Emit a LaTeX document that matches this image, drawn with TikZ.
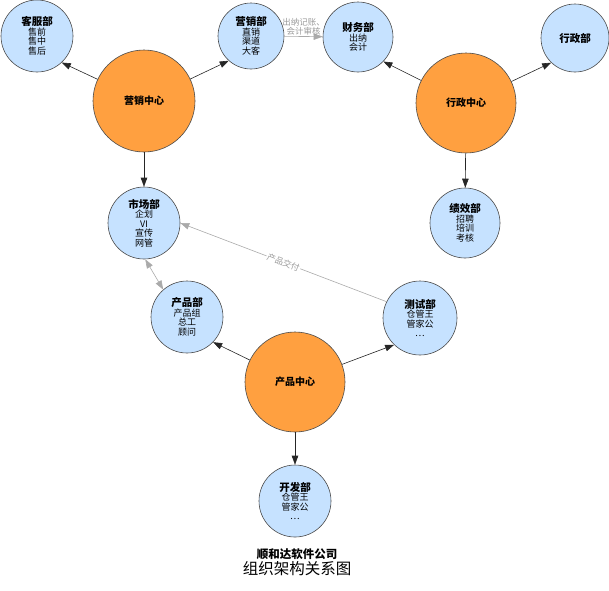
\documentclass[tikz,border=0pt]{standalone}
\usepackage{fontspec}
\setmainfont{Noto Sans CJK SC}
\usetikzlibrary{arrows.meta}
\definecolor{bluefill}{HTML}{C6E2FF}
\definecolor{orangefill}{HTML}{FFA040}
\definecolor{edgegray}{HTML}{AAAAAA}
\definecolor{labelgray}{HTML}{999999}
\definecolor{rimgray}{HTML}{4A4A4A}
\newcommand\depthead[1]{{\fontsize{10.5}{11}\selectfont\bfseries #1}}
\begin{document}
\begin{tikzpicture}[x=1pt,y=-1pt,
  dept/.style={circle, draw=rimgray, fill=bluefill, line width=0.6pt, minimum size=#1,
    inner sep=0pt, align=center, font=\fontsize{9}{9.5}\selectfont},
  hub/.style={circle, draw=rimgray, fill=orangefill, line width=0.6pt, minimum size=#1,
    inner sep=0pt, align=center, font=\fontsize{10}{10.5}\selectfont\bfseries},
  arr/.style={draw=black!85, line width=0.6pt, -{Triangle[length=9pt,width=6.5pt]}},
  garr/.style={draw=edgegray, line width=0.6pt, -{Triangle[length=9pt,width=6.5pt]}},
  garrb/.style={draw=edgegray, line width=0.6pt, {Triangle[length=9pt,width=6.5pt]}-{Triangle[length=9pt,width=6.5pt]}},
  elabel/.style={text=labelgray, font=\fontsize{8.5}{9}\selectfont, inner sep=1pt, align=center}
]
\useasboundingbox (0,0) rectangle (609,590);

\node[dept=72] (kf) at (37,36) {\depthead{客服部}\\售前\\售中\\售后};
\node[hub=102] (yx) at (144,101) {营销中心};
\node[dept=66] (yxb) at (251,36) {\depthead{营销部}\\直销\\渠道\\大客};
\node[dept=70] (cw) at (358,37) {\depthead{财务部}\\出纳\\会计};
\node[hub=100] (xz) at (466,103) {行政中心};
\node[dept=68] (xzb) at (575,38) {\depthead{行政部}};
\node[dept=70] (jx) at (465,223) {\depthead{绩效部}\\招聘\\培训\\考核};
\node[dept=72] (sc) at (144,223) {\depthead{市场部}\\企划\\VI\\宣传\\网管};
\node[dept=72] (cp) at (187,317) {\depthead{产品部}\\产品组\\总工\\顾问};
\node[dept=74] (cs) at (420,318) {\depthead{测试部}\\仓管王\\管家公\\…};
\node[hub=100] (cz) at (295,382) {产品中心};
\node[dept=72] (kfb) at (295,501) {\depthead{开发部}\\仓管王\\管家公\\…};

\node[font=\fontsize{11.5}{12}\selectfont\bfseries] (t1) at (297,554) {顺和达软件公司};
\node[font=\fontsize{15.5}{16}\selectfont] (t2) at (297,569) {组织架构关系图};

\draw[arr] (yx) -- (kf.-47);
\draw[arr] (yx) -- (yxb.-132);
\draw[arr] (yx) -- (sc);
\draw[arr] (xz) -- (cw.-44);
\draw[arr] (xz) -- (xzb.-134);
\draw[arr] (xz) -- (jx);
\draw[arr] (cz) -- (cp.-44);
\draw[arr] (cz) -- (cs.-134);
\draw[arr] (cz) -- (kfb);

\draw[garr] (yxb) -- node[elabel, above] {出纳记账、\\会计审核} (cw);
\draw[garr] (cs.154) -- node[elabel, sloped, fill=white] {产品交付} (sc.0);
\draw[garrb] (sc.-88) -- (cp.131);
\end{tikzpicture}
\end{document}
